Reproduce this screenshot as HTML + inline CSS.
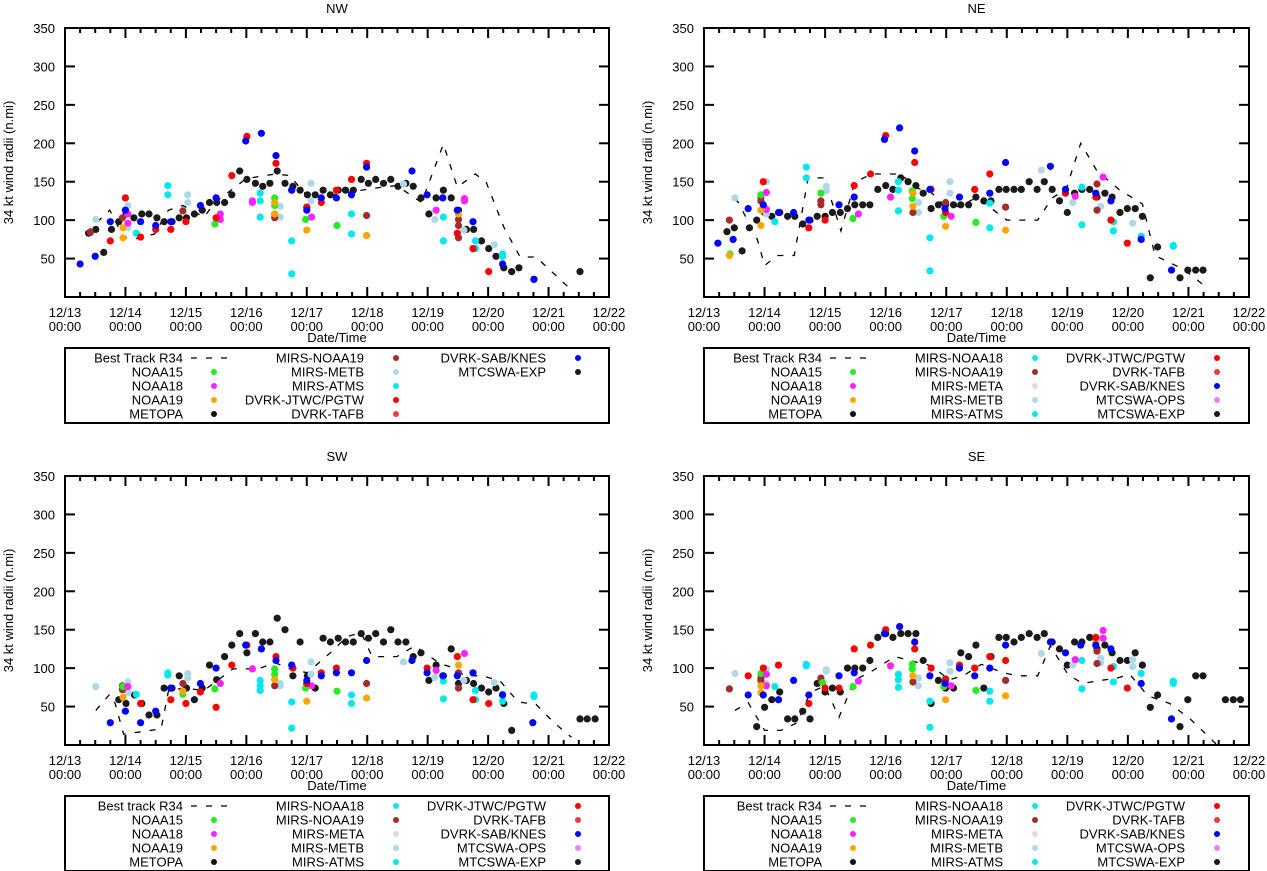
<!DOCTYPE html>
<html><head><meta charset="utf-8">
<style>
body{margin:0;background:#fff;}
svg{display:block;font-family:"Liberation Sans",Arial,sans-serif;}
</style></head>
<body>
<svg id="chart" width="1267" height="871" viewBox="0 0 1267 871" xmlns="http://www.w3.org/2000/svg"></svg>
<script>
// ---- data: [day offset from 12/13 00:00, radius n.mi] ----
const xTickLabels = ["12/13","12/14","12/15","12/16","12/17","12/18","12/19","12/20","12/21","12/22"];
const yTicks = [50,100,150,200,250,300,350];

// NW
const nwBest = [[.35,84],[.74,113],[.97,78],[1.18,76],[1.48,82],[1.71,113],[1.95,119],[2.3,104],[2.48,123],[3.0,154],[3.48,160],[3.72,158],[3.95,136],[4.25,125],[4.49,134],[5.25,143],[5.49,145],[5.9,123],[6.26,199],[6.49,143],[6.79,160],[6.97,149],[7.26,91],[7.53,52],[7.79,52],[7.97,39],[8.38,9]];
const nwExp = [[.39,83],[.51,88],[.64,58],[.77,88],[.89,98],[1.01,108],[1.14,103],[1.27,108],[1.39,108],[1.52,103],[1.64,98],[1.77,98],[1.89,103],[2.01,103],[2.14,108],[2.27,113],[2.39,123],[2.51,123],[2.64,123],[2.76,133],[2.89,164],[3.01,153],[3.15,148],[3.27,144],[3.39,148],[3.51,164],[3.64,148],[3.77,144],[3.89,139],[4.01,133],[4.14,133],[4.27,139],[4.39,133],[4.52,139],[4.64,139],[4.77,139],[4.9,153],[5.02,148],[5.14,153],[5.27,148],[5.39,153],[5.51,144],[5.64,148],[5.76,144],[5.89,129],[6.02,108],[6.14,129],[6.26,139],[6.39,129],[6.51,113],[6.64,88],[6.76,88],[6.89,73],[7.01,63],[7.13,53],[7.26,38],[7.39,33],[7.51,38],[7.76,23],[8.52,33]];
const nwSab = [[.25,43],[.5,53],[.75,98],[1.0,113],[1.25,98],[1.5,93],[1.75,98],[2.24,119],[2.5,129],[2.99,203],[3.25,213],[3.49,184],[3.75,139],[4.0,113],[4.24,129],[4.49,129],[4.74,133],[4.99,169],[5.74,164],[5.99,133],[6.25,129],[6.49,113],[6.75,98],[7.24,43],[7.76,23]];
const nwJtwc = [[.75,73],[1.0,129],[1.25,78],[1.5,88],[1.75,88],[2.0,98],[2.5,103],[2.76,158],[3.01,209],[3.49,174],[3.75,139],[4.0,117],[4.24,123],[4.49,139],[4.74,153],[4.99,174],[6.49,83],[6.75,63],[7.01,33]];
const nwAtms = [[1.18,83],[1.7,145],[1.7,133],[3.23,135],[3.23,125],[3.23,104],[3.75,73],[3.75,30],[4.74,108],[4.74,82],[6.26,104],[6.26,73],[6.79,73],[6.79,63],[7.24,56],[7.24,53]];
const nwMetb = [[.51,101],[1.04,119],[1.04,90],[2.03,133],[2.03,123],[3.56,118],[3.56,104],[4.07,148],[4.07,125],[5.6,147],[6.12,101],[6.6,87],[7.1,68],[7.24,56]];
const nwN19m = [[.42,84],[.95,103],[1.95,112],[3.47,108],[3.47,103],[4.0,117],[4.99,106],[6.51,101],[6.51,93],[6.51,77]];
const nwN18 = [[1.04,96],[1.04,108],[2.57,108],[2.57,101],[3.1,125],[3.1,123],[4.08,104],[6.14,113],[6.61,128],[6.61,125]];
const nwN15 = [[2.48,95],[3.47,129],[3.47,119],[3.98,101],[4.5,93]];
const nwN19 = [[.96,90],[.96,77],[3.47,123],[3.47,108],[4.0,87],[4.99,80],[6.51,108]];

// NE
const neBest = [[.5,127],[.56,124],[.88,75],[1.0,41],[1.21,54],[1.49,54],[1.72,155],[1.99,155],[2.26,86],[2.49,149],[2.76,160],[3.24,160],[3.51,142],[3.75,136],[3.99,118],[4.22,118],[4.49,129],[4.7,118],[5.0,100],[5.51,100],[5.75,129],[5.98,140],[6.22,200],[6.49,164],[6.85,140],[7.24,121],[7.45,54],[7.68,45],[7.92,36],[8.34,10]];
const neExp = [[.38,85],[.5,90],[.63,60],[.75,90],[.87,100],[1.0,110],[1.12,105],[1.25,110],[1.38,105],[1.5,105],[1.63,95],[1.75,100],[1.87,105],[2.0,105],[2.12,110],[2.25,110],[2.37,115],[2.49,120],[2.62,120],[2.74,120],[2.87,140],[3.0,145],[3.12,140],[3.25,155],[3.37,150],[3.5,145],[3.62,135],[3.75,115],[3.87,120],[3.99,120],[4.12,120],[4.24,120],[4.37,120],[4.49,130],[4.62,125],[4.74,125],[4.87,140],[4.99,140],[5.12,140],[5.24,140],[5.37,150],[5.5,140],[5.62,150],[5.75,140],[5.87,125],[6.0,110],[6.12,135],[6.24,140],[6.37,140],[6.49,130],[6.62,135],[6.74,130],[6.87,110],[6.99,115],[7.12,115],[7.24,105],[7.37,25],[7.49,65],[7.86,25],[7.99,35],[8.12,35],[8.24,35]];
const neSab = [[.23,70],[.48,75],[.73,115],[.98,120],[1.23,110],[1.48,110],[1.73,100],[2.23,120],[2.48,130],[2.98,205],[3.23,220],[3.48,190],[3.73,140],[3.98,115],[4.22,130],[4.72,135],[4.98,175],[5.72,170],[5.97,140],[6.47,135],[6.72,125],[7.22,75],[7.72,35]];
const neJtwc = [[.98,150],[1.73,90],[2.0,100],[2.48,145],[2.75,160],[3.0,210],[3.48,175],[3.75,140],[3.99,110],[4.47,140],[4.72,160],[5.97,135],[6.47,130],[6.72,100],[6.99,70]];
const neAtms = [[1.17,98],[1.69,169],[1.69,155],[3.21,150],[3.21,139],[3.21,112],[3.73,77],[3.73,34],[4.72,122],[4.72,90],[6.24,143],[6.24,94],[6.76,98],[6.76,86],[7.22,79],[7.75,67],[7.75,66]];
const neMetb = [[.51,129],[1.03,150],[1.03,108],[2.02,144],[2.02,138],[3.54,123],[3.54,110],[4.06,150],[4.06,135],[5.57,165],[6.09,123],[6.55,118],[7.08,96]];
const neN19m = [[.42,100],[.94,130],[.94,125],[1.93,125],[1.93,120],[3.45,110],[3.99,123],[4.98,117],[6.49,147],[6.49,113]];
const neN18 = [[1.03,136],[1.03,114],[2.55,108],[3.08,130],[4.08,105],[6.13,131],[6.59,156]];
const neN15 = [[.43,56],[.94,133],[1.93,135],[2.46,102],[3.44,138],[3.44,128],[3.96,105],[4.49,97]];
const neN19 = [[.42,54],[.94,113],[.94,93],[3.45,135],[3.45,118],[3.99,92],[4.98,87]];

// SW
const swBest = [[.51,45],[.74,66],[.83,54],[.97,14],[1.59,21],[1.71,70],[1.95,74],[2.3,71],[2.54,85],[2.78,99],[3.19,99],[3.48,107],[3.72,99],[4.01,94],[4.42,122],[4.66,141],[4.9,146],[5.08,115],[5.49,115],[5.79,129],[6.2,106],[6.44,100],[6.61,90],[6.91,90],[7.2,83],[7.5,56],[7.79,53],[8.09,29],[8.38,10]];
const swExp = [[.89,59],[1.01,54],[1.15,65],[1.27,54],[1.39,39],[1.52,39],[1.64,74],[1.77,74],[1.89,90],[2.01,74],[2.14,59],[2.27,74],[2.39,104],[2.51,85],[2.64,115],[2.76,130],[2.89,145],[3.01,120],[3.15,145],[3.27,134],[3.39,134],[3.51,165],[3.64,150],[3.77,90],[3.89,134],[4.01,90],[4.14,74],[4.27,139],[4.39,134],[4.52,139],[4.64,134],[4.77,134],[4.9,145],[5.02,139],[5.14,145],[5.27,134],[5.39,150],[5.51,134],[5.64,134],[5.76,115],[5.89,120],[6.02,84],[6.14,104],[6.26,90],[6.39,125],[6.51,80],[6.64,84],[6.76,80],[6.89,74],[7.01,69],[7.13,74],[7.26,54],[7.39,19],[8.52,34],[8.64,34],[8.77,34]];
const swSab = [[.75,29],[1.0,44],[1.25,29],[1.5,44],[1.75,74],[2.24,80],[2.5,100],[2.99,130],[3.25,125],[3.49,110],[3.75,104],[4.0,84],[4.24,90],[4.49,94],[4.74,94],[4.99,110],[5.74,110],[5.99,94],[6.25,90],[6.49,90],[6.75,94],[7.24,65],[7.74,29]];
const swJtwc = [[1.25,54],[1.75,59],[2.0,54],[2.24,69],[2.5,49],[2.76,104],[3.01,130],[3.49,115],[3.77,100],[4.0,80],[4.24,94],[4.49,100],[5.99,100],[6.49,115],[6.75,59],[7.01,54]];
const swAtms = [[1.18,66],[1.7,94],[1.7,91],[3.23,84],[3.23,77],[3.23,71],[3.75,56],[3.75,22],[4.74,65],[4.74,54],[6.26,83],[6.26,60],[6.79,71],[6.79,59],[7.24,66],[7.24,57],[7.76,65],[7.76,63]];
const swMetb = [[.51,76],[1.04,82],[1.04,68],[2.03,93],[2.03,87],[3.56,80],[3.56,77],[4.07,108],[4.07,92],[5.6,108],[6.12,88],[6.6,84],[7.1,81]];
const swN19m = [[.95,72],[.95,77],[1.95,80],[3.47,77],[4.0,80],[4.99,80],[6.51,94],[6.51,74]];
const swN18 = [[1.04,76],[2.57,80],[3.1,99],[4.08,77],[6.14,97],[6.61,119]];
const swN15 = [[.96,76],[1.95,66],[2.48,73],[3.47,99],[3.47,92],[3.98,74],[4.5,70]];
const swN19 = [[.96,62],[1.95,70],[3.47,85],[4.0,57],[4.99,61],[6.51,104]];

// SE
const seBest = [[.51,45],[.73,55],[.91,31],[1.0,19],[1.27,19],[1.54,29],[1.75,68],[1.99,77],[2.23,36],[2.49,85],[2.73,94],[3.15,115],[3.45,109],[3.75,103],[4.05,85],[4.28,90],[4.58,105],[4.94,94],[5.18,90],[5.51,90],[5.72,129],[6.01,92],[6.25,80],[6.55,84],[6.82,87],[7.03,92],[7.33,64],[7.69,54],[8.04,33],[8.46,1]];
const seExp = [[.87,24],[1.0,49],[1.12,59],[1.25,69],[1.38,34],[1.5,34],[1.63,44],[1.75,34],[1.87,80],[2.0,69],[2.12,74],[2.25,69],[2.37,100],[2.49,100],[2.62,100],[2.74,110],[2.87,140],[3.0,145],[3.12,140],[3.25,145],[3.37,145],[3.5,145],[3.62,110],[3.75,54],[3.87,84],[3.99,74],[4.12,74],[4.24,120],[4.37,115],[4.49,130],[4.62,74],[4.74,115],[4.87,140],[4.99,140],[5.12,134],[5.24,140],[5.37,145],[5.5,140],[5.62,145],[5.75,134],[5.87,125],[6.0,104],[6.12,134],[6.24,134],[6.37,140],[6.49,125],[6.62,130],[6.74,120],[6.87,110],[6.99,110],[7.12,120],[7.24,104],[7.37,49],[7.49,65],[7.86,24],[7.99,59],[8.12,90],[8.24,90],[8.61,59],[8.74,59],[8.86,59]];
const seSab = [[.73,65],[.98,65],[1.23,59],[1.48,84],[1.73,65],[2.23,90],[2.48,94],[2.98,145],[3.23,154],[3.48,134],[3.73,90],[3.98,80],[4.22,100],[4.47,90],[4.72,100],[4.98,130],[5.72,134],[5.97,120],[6.22,130],[6.47,130],[6.72,125],[7.22,80],[7.72,34]];
const seJtwc = [[.73,90],[.98,100],[1.23,104],[1.73,54],[2.0,74],[2.23,74],[2.48,125],[2.75,130],[3.0,150],[3.48,125],[3.75,100],[3.99,84],[4.22,104],[4.47,100],[4.72,115],[4.98,110],[6.47,140],[6.72,100],[6.99,74]];
const seAtms = [[1.17,76],[1.69,105],[1.69,103],[3.21,92],[3.21,85],[3.21,75],[3.73,57],[3.73,23],[4.72,70],[4.72,57],[6.24,110],[6.24,73],[6.76,102],[6.76,82],[7.22,93],[7.22,80],[7.75,83],[7.75,80]];
const seMetb = [[.51,93],[1.03,99],[1.03,80],[2.02,98],[2.02,96],[3.54,87],[3.54,77],[4.06,107],[4.06,96],[5.57,119],[6.09,104],[6.55,113],[6.55,107],[7.08,102],[7.08,111]];
const seN19m = [[.42,73],[.94,87],[.94,84],[1.93,87],[1.93,83],[3.45,82],[3.99,86],[4.98,84],[6.49,122],[6.49,106]];
const seN18 = [[1.03,92],[1.03,77],[2.55,83],[3.08,103],[4.08,77],[6.13,111],[6.59,149],[6.59,139]];
const seN15 = [[.94,93],[1.96,81],[2.46,76],[3.44,105],[3.44,99],[3.96,76],[4.49,71]];
const seN19 = [[.94,77],[.94,68],[3.45,90],[3.99,59],[4.98,64],[6.47,135]];

const C = {best:"#000",n15:"#22ee22",n18:"#ff22ff",n19:"#ffa500",metopa:"#111",mn18:"#11e5ee",mn19:"#a52a2a",meta:"#dddddd",metb:"#add8e6",atms:"#00e8ee",jtwc:"#ff0000",tafb:"#ee3c3c",sab:"#0000ff",ops:"#ee82ee",exp:"#1a1a1a"};

const panels = [
 {id:"nw",title:"NW",L:65,R:609,T:28,B:297,
  series:[["exp",nwExp],["metb",nwMetb],["atms",nwAtms],["mn19",nwN19m],["n15",nwN15],["n18",nwN18],["n19",nwN19],["jtwc",nwJtwc],["sab",nwSab]],best:nwBest,
  legend:[[["Best Track R34","best"],["NOAA15","n15"],["NOAA18","n18"],["NOAA19","n19"],["METOPA","metopa"]],[["MIRS-NOAA19","mn19"],["MIRS-METB","metb"],["MIRS-ATMS","atms"],["DVRK-JTWC/PGTW","jtwc"],["DVRK-TAFB","tafb"]],[["DVRK-SAB/KNES","sab"],["MTCSWA-EXP","exp"]]]},
 {id:"ne",title:"NE",L:704,R:1249,T:28,B:297,
  series:[["exp",neExp],["metb",neMetb],["atms",neAtms],["mn19",neN19m],["n15",neN15],["n18",neN18],["n19",neN19],["jtwc",neJtwc],["sab",neSab]],best:neBest},
 {id:"sw",title:"SW",L:65,R:609,T:476,B:745,
  series:[["exp",swExp],["metb",swMetb],["atms",swAtms],["mn19",swN19m],["n15",swN15],["n18",swN18],["n19",swN19],["jtwc",swJtwc],["sab",swSab]],best:swBest},
 {id:"se",title:"SE",L:704,R:1249,T:476,B:745,
  series:[["exp",seExp],["metb",seMetb],["atms",seAtms],["mn19",seN19m],["n15",seN15],["n18",seN18],["n19",seN19],["jtwc",seJtwc],["sab",seSab]],best:seBest}
];
const fullLegend = [[["Best Track R34","best"],["NOAA15","n15"],["NOAA18","n18"],["NOAA19","n19"],["METOPA","metopa"]],[["MIRS-NOAA18","mn18"],["MIRS-NOAA19","mn19"],["MIRS-META","meta"],["MIRS-METB","metb"],["MIRS-ATMS","atms"]],[["DVRK-JTWC/PGTW","jtwc"],["DVRK-TAFB","tafb"],["DVRK-SAB/KNES","sab"],["MTCSWA-OPS","ops"],["MTCSWA-EXP","exp"]]];

const NS="http://www.w3.org/2000/svg";
const svg=document.getElementById("chart");
function mk(tag,attrs,parent){const e=document.createElementNS(NS,tag);for(const k in attrs)e.setAttribute(k,attrs[k]);(parent||svg).appendChild(e);return e;}

panels.forEach(p=>{
  const g=mk("g",{});
  
  
  const xs=d=>p.L+(p.R-p.L)*d/9;
  const ys=v=>p.B-(p.B-p.T)*v/350;
  // title
  const t=mk("text",{x:(p.L+p.R)/2,y:p.T-15,"text-anchor":"middle","font-size":13},g);t.textContent=p.title;
  
  
  // y-axis title
  const yt=mk("text",{x:0,y:0,"text-anchor":"middle","font-size":13,transform:`translate(${p.L-52},${(p.T+p.B)/2}) rotate(-90)`},g);yt.textContent="34 kt wind radii (n.mi)";
  
  
  // x title
  const xt=mk("text",{x:(p.L+p.R)/2,y:p.B+45,"text-anchor":"middle","font-size":13},g);xt.textContent="Date/Time";
  
  
  // y ticks
  yTicks.forEach(v=>{
    const y=ys(v);
    mk("line",{x1:p.L,x2:p.L+10,y1:y,y2:y,stroke:"#000","stroke-width":2},g);
    mk("line",{x1:p.R-10,x2:p.R,y1:y,y2:y,stroke:"#000","stroke-width":2},g);
    const l=mk("text",{x:p.L-10,y:y+5,"text-anchor":"end","font-size":13},g);l.textContent=v;
    
    
  });
  // x ticks
  for(let q=0;q<=36;q++){
    const x=xs(q/4), major=q%4===0, len=major?10:5;
    mk("line",{x1:x,x2:x,y1:p.B,y2:p.B-len,stroke:"#000","stroke-width":2},g);
    mk("line",{x1:x,x2:x,y1:p.T,y2:p.T+len,stroke:"#000","stroke-width":2},g);
  }
  xTickLabels.forEach((s,i)=>{
    const l=mk("text",{x:xs(i),y:p.B+20,"text-anchor":"middle","font-size":13},g);l.textContent=s;
    
    
    const l2=mk("text",{x:xs(i),y:p.B+34,"text-anchor":"middle","font-size":13},g);l2.textContent="00:00";
    
    
  });
  // best track
  const path=mk("path",{d:p.best.map((pt,i)=>(i?"L":"M")+xs(pt[0]).toFixed(1)+","+ys(pt[1]).toFixed(1)).join(""),fill:"none",stroke:"#000","stroke-width":1.3,"stroke-dasharray":"6,9"},g);
  
  
  // series
  p.series.forEach(([key,arr])=>{
    arr.forEach(pt=>{
      const c=mk("circle",{cx:xs(pt[0]).toFixed(1),cy:ys(pt[1]).toFixed(1),r:3.6,fill:C[key]},g);
      
      
    });
  });
  // frame
  const fr=mk("rect",{x:p.L,y:p.T,width:p.R-p.L,height:p.B-p.T,fill:"none",stroke:"#000","stroke-width":2},g);
  
  
  // legend
  const leg=p.legend||fullLegend;
  const top=p.B+51, lg=mk("g",{},g);
  
  
  mk("rect",{x:p.L,y:top,width:p.R-p.L,height:75,fill:"#fff",stroke:"#000","stroke-width":2},lg);
  const colText=[118,299,481], colSym=[149,331,513];
  leg.forEach((col,ci)=>col.forEach(([name,key],ri)=>{
    let label=name;
    if(key==="best" && p.id==="sw") label="Best track R34";
    if(key==="best" && p.id==="se") label="Best track R34";
    const y=top+10+ri*14;
    const tx=mk("text",{x:p.L+colText[ci],y:y+4.5,"text-anchor":"end","font-size":13},lg);tx.textContent=label;
    
    
    if(key==="best"){
      mk("line",{x1:p.L+colSym[ci]-23,x2:p.L+colSym[ci]+14,y1:y,y2:y,stroke:"#000","stroke-width":1.3,"stroke-dasharray":"6,9"},lg);
    } else {
      mk("circle",{cx:p.L+colSym[ci],cy:y,r:3,fill:C[key]},lg);
    }
  }));
});
</script>
</body></html>
